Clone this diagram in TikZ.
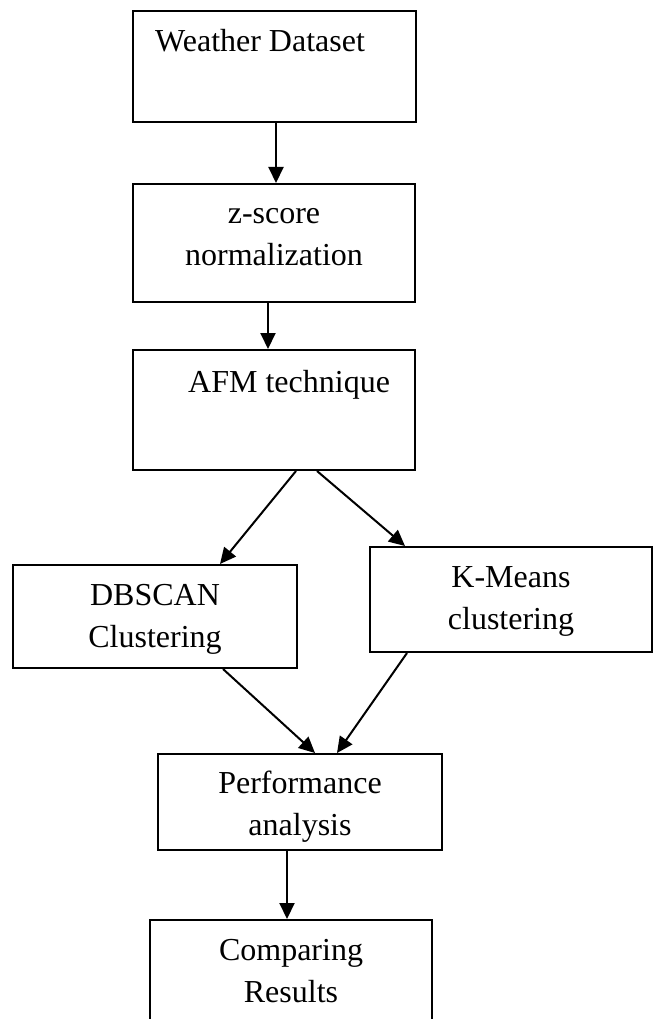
\documentclass[tikz,border=0pt]{standalone}
\usepackage{fontspec}
\setmainfont{Liberation Serif}
\usetikzlibrary{arrows.meta}

\begin{document}
\begin{tikzpicture}[x=1pt,y=-1pt,
  stepbox/.style={draw=black, line width=2pt, rectangle, inner sep=0pt},
  steptext/.style={inner sep=0pt, align=center, anchor=base,
    font=\fontsize{32}{42}\selectfont},
  flow/.style={draw=black, line width=2pt,
    -{Triangle[length=16pt,width=15pt]}}]
\useasboundingbox (0,0) rectangle (656,1019);
\begin{scope}
\clip (0,0) rectangle (656,1019);

% boxes
\node[stepbox, minimum width=283pt, minimum height=111pt] (b1) at (274.5,66.5) {};
\node[stepbox, minimum width=282pt, minimum height=118pt] (b2) at (274,243) {};
\node[stepbox, minimum width=282pt, minimum height=120pt] (b3) at (274,410) {};
\node[stepbox, minimum width=284pt, minimum height=103pt] (b4) at (155,616.5) {};
\node[stepbox, minimum width=282pt, minimum height=105pt] (b5) at (511,599.5) {};
\node[stepbox, minimum width=284pt, minimum height=96pt]  (b6) at (300,802) {};
\node[stepbox, minimum width=282pt, minimum height=120pt] (b7) at (291,980) {};

% labels (anchor base = baseline of the last line)
\node[steptext, anchor=base west] (t1) at (155,52) {Weather Dataset};
\node[steptext] (t2) at (274,265) {z-score\\normalization};
\node[steptext, anchor=base west] (t3) at (188,392) {AFM technique};
\node[steptext] (t4) at (155,647) {DBSCAN\\Clustering};
\node[steptext] (t5) at (511,629) {K-Means\\clustering};
\node[steptext] (t6) at (300,835) {Performance\\analysis};
\node[steptext] (t7) at (291,1002) {Comparing\\Results};

% connectors
\draw[flow] ([xshift=1.5pt]b1.south) -- ([xshift=1.5pt]b1.south |- b2.north);
\draw[flow] ([xshift=-6pt]b2.south) -- ([xshift=-6pt]b2.south |- b3.north);
\draw[flow] ([xshift=22pt]b3.south) -- ([xshift=65pt]b4.north);
\draw[flow] ([xshift=43pt]b3.south) -- ([xshift=-106pt]b5.north);
\draw[flow] ([xshift=68pt]b4.south) -- ([xshift=15pt]b6.north);
\draw[flow] ([xshift=-104pt]b5.south) -- ([xshift=37pt]b6.north);
\draw[flow] ([xshift=-13pt]b6.south) -- ([xshift=-13pt]b6.south |- b7.north);
\end{scope}
\end{tikzpicture}
\end{document}
